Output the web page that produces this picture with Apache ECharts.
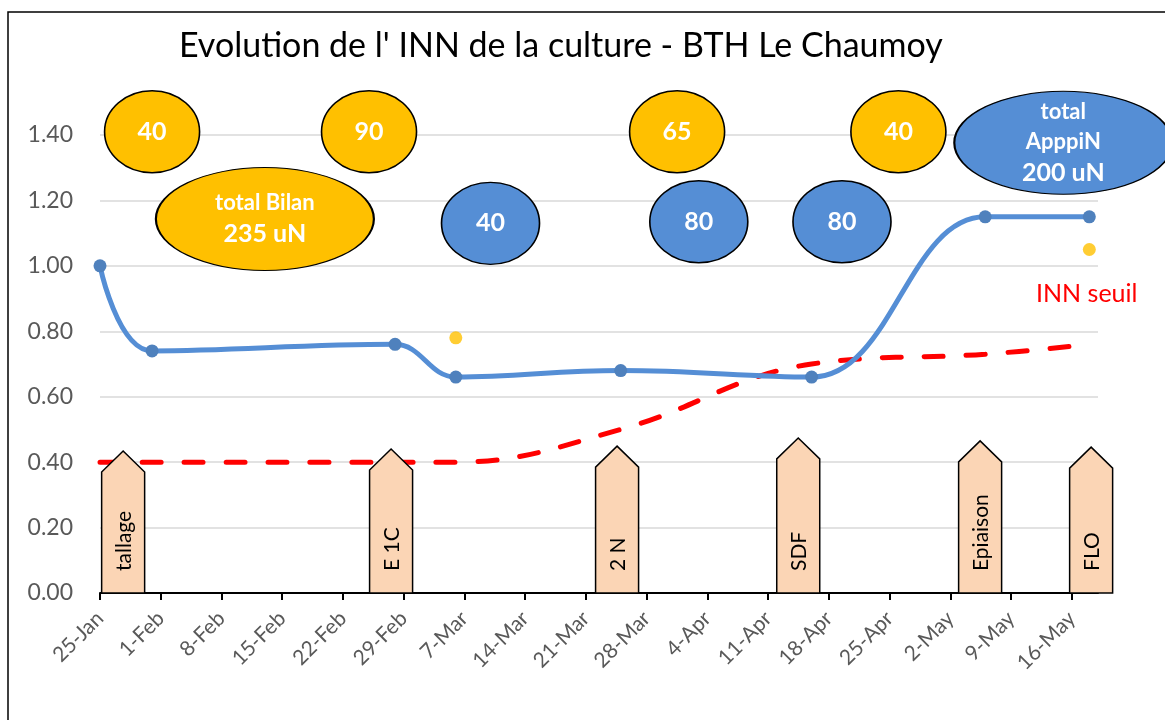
<!DOCTYPE html>
<html>
<head>
<meta charset="utf-8">
<title>Evolution de l' INN de la culture</title>
<script src="https://cdn.jsdelivr.net/npm/echarts@6/dist/echarts.min.js"></script>
<style>
html,body{margin:0;padding:0;background:#fff;}
#chart{width:1165px;height:720px;}
</style>
</head>
<body>
<div id="chart"></div>
<script>
var START = Date.UTC(2020, 0, 25);
var MONTHS = ['Jan','Feb','Mar','Apr','May','Jun'];

// mesures INN et seuil
var dates = ['2020-01-25','2020-01-31','2020-02-28','2020-03-06','2020-03-25','2020-04-16','2020-05-06','2020-05-18'];
var innValues = [1.00, 0.74, 0.76, 0.66, 0.68, 0.66, 1.15, 1.15];
var seuilValues = [0.40, 0.40, 0.40, 0.40, 0.50, 0.70, 0.73, 0.76];

// points jaunes isoles
var pointDates = ['2020-03-06','2020-05-18'];
var pointValues = [0.78, 1.05];

// stades de la culture
var stageNames = ['tallage','E 1C','2 N','SDF','Epiaison','FLO'];
var stageDates = ['2020-01-27T16:00','2020-02-27T13:00','2020-03-24T14:00','2020-04-14T11:00','2020-05-05T10:00','2020-05-18T05:00'];
var stageHeights = [0.434, 0.44, 0.449, 0.474, 0.465, 0.446];

// bulles : apports bilan (jaune) et apports appliques (bleu)
var bilanLabels = ['40','90','65','40','total Bilan\n235 uN'];
var bilanDates = ['2020-01-31','2020-02-25','2020-03-31T12:00','2020-04-26','2020-02-13'];
var bilanY = [1.41, 1.41, 1.41, 1.41, 1.143];
var appliLabels = ['40','80','80','total\nApppiN\n200 uN'];
var appliDates = ['2020-03-10','2020-04-03','2020-04-19T12:00','2020-05-15'];
var appliY = [1.13, 1.135, 1.135, 1.376];

// ticks hebdo
var tickDays = [];
for (var t = 0; t <= 112; t += 7) tickDays.push(t);

function dayOf(s) {
    var ms = Date.parse(s.length === 10 ? s + 'T00:00Z' : s + 'Z');
    return (ms - START) / 864e5;
}
function dayLabel(d) {
    var dt = new Date(START + d * 864e5);
    return dt.getUTCDate() + '-' + MONTHS[dt.getUTCMonth()];
}
function pairs(ds, vs) {
    return ds.map(function (d, i) { return [dayOf(d), vs[i]]; });
}

var ELLIPSE = 'path://M0,50 C0,22.4 22.4,0 50,0 C77.6,0 100,22.4 100,50 C100,77.6 77.6,100 50,100 C22.4,100 0,77.6 0,50 Z';
var FONT = 'Lato';

function bubbleFormatter(p) {
    var lines = p.data[2].split('\n');
    if (lines.length === 1) return '{b|' + lines[0] + '}';
    return lines.map(function (l, i) {
        return (i === lines.length - 1 ? '{b|' : '{s|') + l + '}';
    }).join('\n');
}
function bubbleData(ds, ys, labels) {
    return ds.map(function (d, i) { return [dayOf(d), ys[i], labels[i]]; });
}
function bubbleSeries(name, data, color, small) {
    return {
        name: name,
        type: 'scatter',
        data: data,
        symbol: ELLIPSE,
        symbolSize: function (v) {
            return v[2].indexOf('\n') >= 0 ? [218, 103] : small;
        },
        clip: false,
        z: 5,
        itemStyle: { color: color, borderColor: '#000', borderWidth: 1.5, opacity: 1 },
        label: {
            show: true,
            position: 'inside',
            formatter: bubbleFormatter,
            color: '#fff',
            fontFamily: FONT,
            fontWeight: 'bold',
            rich: {
                s: { fontSize: 22, fontWeight: 'bold', color: '#fff', fontFamily: FONT, lineHeight: 30 },
                b: { fontSize: 25, fontWeight: 'bold', color: '#fff', fontFamily: FONT, lineHeight: 32 }
            }
        },
        emphasis: { disabled: true }
    };
}

var chart = echarts.init(document.getElementById('chart'));

var option = {
    animation: false,
    title: {
        text: "Evolution de l' INN de la culture - BTH Le Chaumoy",
        left: 174,
        top: 24,
        textStyle: { fontFamily: FONT, fontSize: 34, fontWeight: 'normal', color: '#000' }
    },
    grid: { left: 100, right: 67, top: 135, bottom: 127 },
    xAxis: {
        type: 'value',
        min: 0,
        max: 115,
        interval: 7,
        axisLine: { lineStyle: { color: '#000', width: 2 } },
        axisTick: { show: true, length: 7, customValues: tickDays, lineStyle: { color: '#000', width: 2 } },
        axisLabel: {
            rotate: 45,
            customValues: tickDays,
            formatter: dayLabel,
            color: '#595959',
            fontFamily: FONT,
            fontSize: 21,
            margin: 22
        },
        splitLine: { show: false }
    },
    yAxis: {
        type: 'value',
        min: 0,
        max: 1.4,
        interval: 0.2,
        axisLine: { show: false },
        axisTick: { show: false },
        axisLabel: {
            formatter: function (v) { return v.toFixed(2); },
            color: '#595959',
            fontFamily: FONT,
            fontSize: 23,
            margin: 27
        },
        splitLine: { lineStyle: { color: '#D9D9D9', width: 1.5 } }
    },
    graphic: [
        { type: 'rect', shape: { x: 8, y: 12, width: 1200, height: 760 }, style: { fill: null, stroke: '#000', lineWidth: 1.5 }, z: -1 },
        { type: 'text', left: 1036, top: 281, style: { text: 'INN seuil', fill: '#FF0000', font: '25px ' + FONT } }
    ],
    series: [
        {
            name: 'INN seuil',
            type: 'line',
            data: pairs(dates, seuilValues),
            smooth: 0.4,
            symbol: 'none',
            lineStyle: { color: '#FF0000', width: 5, type: [19, 23], cap: 'round' },
            z: 2
        },
        {
            name: 'stades',
            type: 'custom',
            data: stageDates.map(function (d, i) { return [dayOf(d), stageHeights[i]]; }),
            z: 3,
            renderItem: function (params, api) {
                var top = api.coord([api.value(0), api.value(1)]);
                var base = api.coord([api.value(0), 0]);
                var cx = top[0], hw = 21.5;
                return {
                    type: 'group',
                    children: [
                        {
                            type: 'polygon',
                            shape: { points: [[cx - hw, base[1]], [cx - hw, top[1] + 21], [cx, top[1]], [cx + hw, top[1] + 21], [cx + hw, base[1]]] },
                            style: { fill: '#FBD5B5', stroke: '#000', lineWidth: 1.5 }
                        },
                        {
                            type: 'text',
                            x: cx + 1,
                            y: base[1] - 22,
                            rotation: Math.PI / 2,
                            style: { text: stageNames[params.dataIndex], align: 'left', verticalAlign: 'middle', font: '21px ' + FONT, fill: '#000' }
                        }
                    ]
                };
            }
        },
        {
            name: 'INN',
            type: 'line',
            data: pairs(dates, innValues),
            smooth: 0.4,
            symbol: 'circle',
            symbolSize: 13,
            itemStyle: { color: '#4F81BD' },
            lineStyle: { color: '#558ED5', width: 5 },
            z: 4
        },
        {
            name: 'points',
            type: 'scatter',
            data: pairs(pointDates, pointValues),
            symbolSize: 13,
            itemStyle: { color: '#FFC000' },
            z: 4
        },
        bubbleSeries('bilan', bubbleData(bilanDates, bilanY, bilanLabels), '#FFC000', [95, 82]),
        bubbleSeries('appli', bubbleData(appliDates, appliY, appliLabels), '#558ED5', [98, 82])
    ]
};

chart.setOption(option);
</script>
</body>
</html>
